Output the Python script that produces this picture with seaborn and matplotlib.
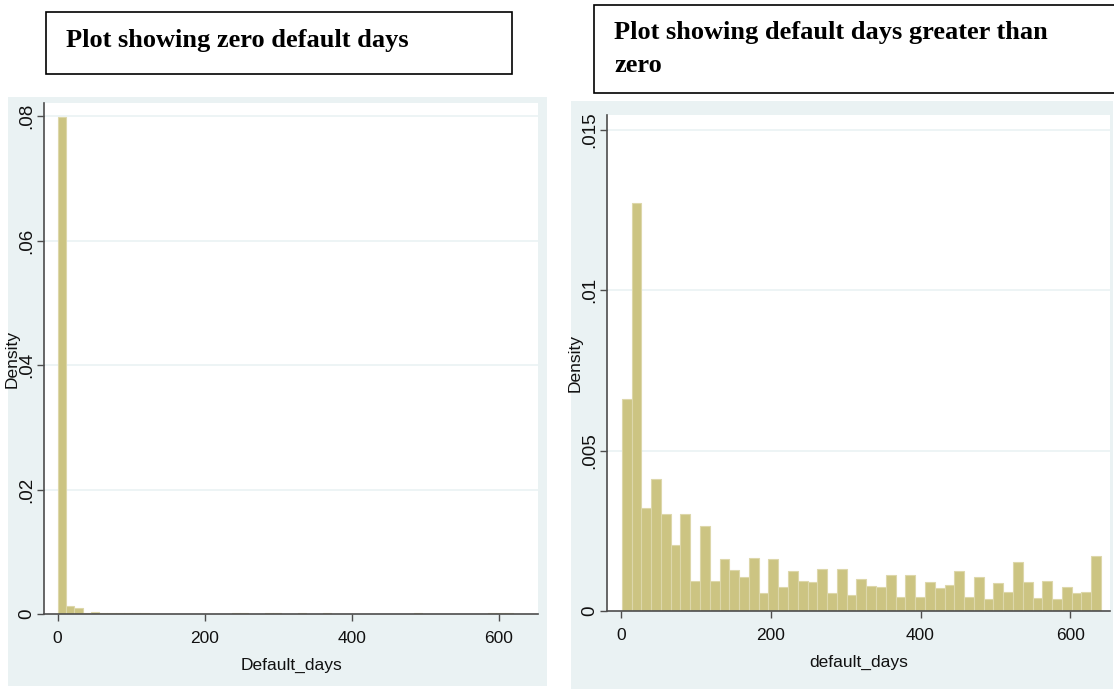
import numpy as np
import pandas as pd
import seaborn as sns
import matplotlib
matplotlib.use("Agg")
import matplotlib.pyplot as plt
from matplotlib.patches import Rectangle

# left panel: density per bin, 57 bins over 0..642 days
zero_range = (0, 642)
zero_density = [
    0.0799, 0.00128, 0.00091, 0.00011, 0.00037, 0.00016, 0.00011, 0.00021, 0.00011, 0.00009,
    0.00021, 0.00008, 0.00006, 0.00007, 0.00005, 0.00006, 0.00005, 0.00004, 0.00005, 0.00006,
    0.00005, 0.00010, 0.00009, 0.00005, 0.00004, 0.00010, 0.00009, 0.00005, 0.00004, 0.00011,
    0.00005, 0.00004, 0.00009, 0.00004, 0.00005, 0.00004, 0.00003, 0.00005, 0.00004, 0.00004,
    0.00003, 0.00004, 0.00005, 0.00009, 0.00004, 0.00003, 0.00004, 0.00003, 0.00004, 0.00003,
    0.00004, 0.00005, 0.00010, 0.00011, 0.00009, 0.00004, 0.00003,
]

# right panel: density per bin, 49 bins over 1..641 days
pos_range = (1, 641)
pos_density = [
    0.00661, 0.01273, 0.00321, 0.00413, 0.00304, 0.00207, 0.00304, 0.00094, 0.00266, 0.00093,
    0.00161, 0.00129, 0.00105, 0.00164, 0.00056, 0.00161, 0.00076, 0.00124, 0.00094, 0.00089,
    0.00131, 0.00055, 0.00131, 0.00050, 0.00100, 0.00078, 0.00074, 0.00112, 0.00045, 0.00113,
    0.00045, 0.00090, 0.00071, 0.00080, 0.00126, 0.00045, 0.00107, 0.00038, 0.00086, 0.00059,
    0.00154, 0.00090, 0.00041, 0.00094, 0.00036, 0.00074, 0.00057, 0.00059, 0.00172,
]

x_ticks = [0, 200, 400, 600]
left_yticks = [0, 0.02, 0.04, 0.06, 0.08]
left_ylabels = ["0", ".02", ".04", ".06", ".08"]
right_yticks = [0, 0.005, 0.01, 0.015]
right_ylabels = ["0", ".005", ".01", ".015"]

BAR = "#CCC482"
EDGE = "#DDD7AA"
BG = "#EAF2F3"
AXC = "#4d4d4d"
TXT = "#111111"
LABEL_FONT = ["Liberation Sans Narrow", "Liberation Sans", "DejaVu Sans"]

W, H = 1114, 689
sns.set_theme(style="white")
fig = plt.figure(figsize=(W / 100, H / 100), dpi=100)
fig.patch.set_facecolor("white")


def frac(x0, y0, x1, y1):
    # pixel box (top-left origin) -> figure fraction rect
    return [x0 / W, 1 - y1 / H, (x1 - x0) / W, (y1 - y0) / H]


# graph region backgrounds
for box in [(8, 97, 547, 686), (571, 101, 1113, 689)]:
    r = frac(*box)
    fig.patches.append(Rectangle((r[0], r[1]), r[2], r[3], transform=fig.transFigure,
                                 facecolor=BG, edgecolor="none", zorder=-5))


def hist_panel(rect, rng, dens, xlim, ylim, yticks, ylabels, xlabel, ylab_x):
    ax = fig.add_axes(rect)
    edges = np.linspace(rng[0], rng[1], len(dens) + 1)
    df = pd.DataFrame({"mid": (edges[:-1] + edges[1:]) / 2, "density": dens})
    sns.histplot(data=df, x="mid", weights="density", bins=edges.tolist(), stat="count",
                 color=BAR, edgecolor=EDGE, linewidth=0.8, alpha=1, ax=ax)
    ax.set_facecolor("white")
    ax.set_xlim(*xlim)
    ax.set_ylim(*ylim)
    ax.set_yticks(yticks)
    ax.set_yticklabels(ylabels, rotation=90, va="center", family=LABEL_FONT, fontsize=13.5, color=TXT)
    ax.set_xticks(x_ticks)
    ax.set_xticklabels([str(t) for t in x_ticks], family=LABEL_FONT, fontsize=12.5, color=TXT)
    for y in yticks[1:]:
        ax.axhline(y, color=BG, lw=1.2, zorder=0)
    ax.set_axisbelow(True)
    for s in ["top", "right"]:
        ax.spines[s].set_visible(False)
    for s in ["left", "bottom"]:
        ax.spines[s].set_color(AXC)
        ax.spines[s].set_linewidth(1.2)
    ax.tick_params(axis="both", direction="out", length=5, width=1, color=AXC, left=True, bottom=True)
    ax.tick_params(axis="y", pad=1.5)
    ax.tick_params(axis="x", pad=7)
    ax.set_xlabel(xlabel, family=LABEL_FONT, fontsize=12.5, color=TXT, labelpad=9)
    ax.set_ylabel("Density", family=LABEL_FONT, fontsize=12.5, color=TXT)
    ax.yaxis.set_label_coords(ylab_x, 0.5)
    return ax


hist_panel(frac(44, 103, 538, 614), zero_range, zero_density,
           (-18.6, 653.5), (0, 0.0821), left_yticks, left_ylabels, "Default_days", -24 / 494)
hist_panel(frac(607, 115, 1110, 611), pos_range, pos_density,
           (-18.7, 653), (0, 0.01547), right_yticks, right_ylabels, "default_days", -24 / 503)

# title boxes
for box in [(46, 12, 512, 74), (594, 5, 1120, 93)]:
    r = frac(*box)
    fig.patches.append(Rectangle((r[0], r[1]), r[2], r[3], transform=fig.transFigure,
                                 facecolor="white", edgecolor="black", linewidth=1.2, zorder=3))
fig.text(66 / W, 1 - 41 / H, "Plot showing zero default days", family="Liberation Serif",
         weight="bold", fontsize=19, va="center", ha="left", color="black", zorder=4)
fig.text(614 / W, 1 - 32 / H, "Plot showing default days greater than", family="Liberation Serif",
         weight="bold", fontsize=19, va="center", ha="left", color="black", zorder=4)
fig.text(614 / W, 1 - 66 / H, "zero", family="Liberation Serif",
         weight="bold", fontsize=19, va="center", ha="left", color="black", zorder=4)

fig.savefig("out.png", dpi=100)
